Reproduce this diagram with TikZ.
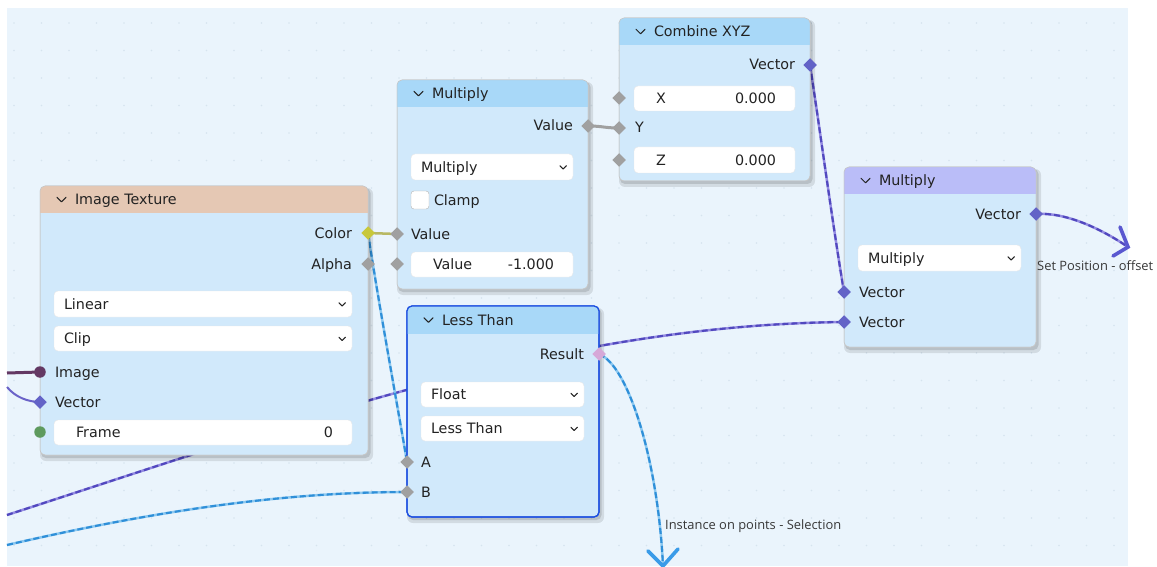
\documentclass[tikz,border=0pt]{standalone}
\usepackage{fontspec}
\setmainfont{DejaVu Sans}
\newfontfamily\lblfont{Open Sans}
\usetikzlibrary{shapes.geometric,fit,calc}
\definecolor{bgc}{HTML}{EAF4FC}
\definecolor{dotc}{HTML}{D6E4EF}
\definecolor{bodyc}{HTML}{D1E9FB}
\definecolor{hdrblue}{HTML}{A8D8F8}
\definecolor{hdrpeach}{HTML}{E5C8B4}
\definecolor{hdrlav}{HTML}{BABDF8}
\definecolor{txtc}{HTML}{222222}
\definecolor{sgray}{HTML}{A0A0A0}
\definecolor{syellow}{HTML}{C8C83A}
\definecolor{svec}{HTML}{6363C7}
\definecolor{spink}{HTML}{D6A8D8}
\definecolor{simg}{HTML}{633863}
\definecolor{sgreen}{HTML}{5E9A5E}
\definecolor{wblue}{HTML}{2F8FD8}
\definecolor{wbluel}{HTML}{8CC8F0}
\definecolor{wpurp}{HTML}{5148BE}
\definecolor{wpurpl}{HTML}{948CE2}
\definecolor{ablue}{HTML}{3A9BE8}
\definecolor{apurp}{HTML}{5A58D0}
\definecolor{ltborder}{HTML}{1E50E0}
\pgfdeclarelayer{back}
\pgfdeclarelayer{wires}
\pgfsetlayers{back,wires,main}
\newcommand{\bnode}[9]{%
  \fill[black, opacity=0.10, rounded corners=6pt] (#2+0,#3+2) rectangle (#4+5,#5+6);
  \fill[black, opacity=0.12, rounded corners=5pt] (#2+1,#3+2) rectangle (#4+2.5,#5+3);
  \node[fit={(#2,#3)(#4,#5)}, inner sep=0, outer sep=0, rounded corners=5pt, fill=bodyc, #9] (#1) {};
  \begin{scope}
    \clip[rounded corners=5pt] (#2,#3) rectangle (#4,#5);
    \fill[#7] (#2,#3) rectangle (#4,#6);
  \end{scope}
  \draw[#9, rounded corners=5pt] (#2,#3) rectangle (#4,#5);
  \draw[chev] (#2+17,{(#3+#6)/2-2.2}) -- ++(4.5,4.5) -- ++(4.5,-4.5);
  \node[txt] (#1-t) at (#2+35,{(#3+#6)/2+5}) {#8};
}
\newcommand{\ddown}[6]{%
  \node[field, fit={(#2,#3)(#4,#5)}] (#1) {};
  \node[txt] (#1-t) at (#2+10,{(#3+#5)/2+5}) {#6};
  \draw[chev, line width=1.1pt] (#4-13,{(#3+#5)/2-1.2}) -- ++(3.2,3.2) -- ++(3.2,-3.2);
}
\newcommand{\vfield}[7]{%
  \node[field, fit={(#2,#3)(#4,#5)}] (#1) {};
  \node[txt] (#1-t) at (#2+22,{(#3+#5)/2+5}) {#6};
  \node[rtxt] (#1-v) at (#4-19,{(#3+#5)/2+5}) {#7};
}
\begin{document}
\begin{tikzpicture}[x=1pt,y=-1pt,
  sockd/.style={diamond, inner sep=0, outer sep=0, minimum size=13.5pt, fill=#1},
  sockc/.style={circle, inner sep=0, outer sep=0, minimum size=11.5pt, fill=#1},
  field/.style={rectangle, rounded corners=4pt, fill=white, draw=black!9, line width=0.4pt, inner sep=0, outer sep=0},
  txt/.style={anchor=base west, inner sep=0, outer sep=0, font=\fontsize{14.3}{16}\selectfont, text=txtc},
  rtxt/.style={txt, anchor=base east},
  lbl/.style={anchor=base west, inner sep=0, font=\lblfont\fontsize{12.9}{14}\selectfont, text=txtc!90},
  chev/.style={draw=txtc, line width=1pt, line cap=round, line join=round},
  normb/.style={draw=black!22, line width=0.5pt},
  selb/.style={draw=ltborder, line width=1.2pt},
  fieldblue/.style={draw=wblue, line width=2.1pt, dash pattern=on 6pt off 3pt, preaction={draw=wbluel, line width=2.5pt}},
  fieldpurp/.style={draw=wpurp, line width=2.1pt, dash pattern=on 6pt off 3pt, preaction={draw=wpurpl, line width=2.5pt}},
  arrowv/.style={line width=3.6pt, line cap=round, line join=miter},
]
\useasboundingbox (0,0) rectangle (1157,567);
\begin{pgfonlayer}{back}
  \fill[white] (0,0) rectangle (1157,567);
  \fill[bgc] (7,8) rectangle (1128,566);
  \begin{scope}
    \clip (7,8) rectangle (1128,566);
    \foreach \i in {0,...,40} {
      \foreach \j in {0,...,20} {
        \fill[dotc] (14+\i*27.5, 23+\j*27.5) circle (0.9);
      }
    }
  \end{scope}
\end{pgfonlayer}

% ---------------- Image Texture
\bnode{img}{40}{186}{368}{455}{213}{hdrpeach}{Image Texture}{normb}
\node[rtxt] (img-color-t) at (352,238) {Color};
\node[rtxt] (img-alpha-t) at (352,269) {Alpha};
\ddown{img-interp}{54}{291}{352}{317}{Linear}
\ddown{img-ext}{54}{326}{352}{351}{Clip}
\node[txt] (img-image-t) at (55,377) {Image};
\node[txt] (img-vec-t) at (55,407) {Vector};
\vfield{img-frame}{54}{420}{352}{445}{Frame}{0}

% ---------------- Multiply (math)
\bnode{mul1}{397}{80}{588}{289}{107}{hdrblue}{Multiply}{normb}
\node[rtxt] (mul1-out-t) at (573,131) {Value};
\ddown{mul1-op}{411}{154}{573}{180}{Multiply}
\node[field, rounded corners=3pt, draw=black!30, fit={(411,191)(429,209)}] (mul1-clampbox) {};
\node[txt] (mul1-clamp-t) at (434,205) {Clamp};
\node[txt] (mul1-in1-t) at (411,239) {Value};
\vfield{mul1-v2}{411}{252}{573}{277}{Value}{-1.000}

% ---------------- Combine XYZ
\bnode{cxyz}{619}{18}{810}{181}{45}{hdrblue}{Combine XYZ}{normb}
\node[rtxt] (cxyz-out-t) at (795,70) {Vector};
\vfield{cxyz-x}{634}{86}{795}{111}{X}{0.000}
\node[txt] (cxyz-y-t) at (635,133) {Y};
\vfield{cxyz-z}{634}{147}{795}{173}{Z}{0.000}

% ---------------- Multiply (vector)
\bnode{mul2}{844}{167}{1036}{347}{194}{hdrlav}{Multiply}{normb}
\node[rtxt] (mul2-out-t) at (1021,219) {Vector};
\ddown{mul2-op}{858}{245}{1021}{271}{Multiply}
\node[txt] (mul2-in1-t) at (859,297) {Vector};
\node[txt] (mul2-in2-t) at (859,327) {Vector};

% ---------------- Less Than
\bnode{lt}{407}{306}{599}{517}{334}{hdrblue}{Less Than}{selb}
\node[rtxt] (lt-res-t) at (584,359) {Result};
\ddown{lt-type}{421}{382}{584}{407}{Float}
\ddown{lt-op}{421}{416}{584}{441}{Less Than}
\node[txt] (lt-a-t) at (421,467) {A};
\node[txt] (lt-b-t) at (421,497) {B};

% ---------------- sockets
\node[sockd=syellow] (img-color) at (368,233) {};
\node[sockd=sgray] (img-alpha) at (368,264) {};
\node[sockc=simg] (img-image) at (40,372) {};
\node[sockd=svec] (img-vec) at (40,402) {};
\node[sockc=sgreen] (img-frame-s) at (40,432) {};
\node[sockd=sgray] (mul1-out) at (588,126) {};
\node[sockd=sgray] (mul1-in1) at (397,234) {};
\node[sockd=sgray] (mul1-in2) at (397,264) {};
\node[sockd=svec] (cxyz-out) at (810,65) {};
\node[sockd=sgray] (cxyz-xs) at (619,98) {};
\node[sockd=sgray] (cxyz-y) at (619,128) {};
\node[sockd=sgray] (cxyz-zs) at (619,160) {};
\node[sockd=svec] (mul2-out) at (1036,214) {};
\node[sockd=svec] (mul2-in1) at (844,292) {};
\node[sockd=svec] (mul2-in2) at (844,322) {};
\node[sockd=spink] (lt-res) at (599,354) {};
\node[sockd=sgray] (lt-a) at (407,462) {};
\node[sockd=sgray] (lt-b) at (407,492) {};

% free ends
\coordinate (offImage) at (7,373);
\coordinate (offVec) at (7,387);
\coordinate (offLong) at (7,515);
\coordinate (offB) at (7,545);
\coordinate (tipSel) at (663,566);
\coordinate (tipPos) at (1128,247);

% ---------------- wires
\begin{pgfonlayer}{wires}
  \draw[line width=3pt, draw=simg] (offImage) -- (img-image.center);
  \draw[line width=2pt, draw=wpurp!85] (offVec) .. controls (15,397) and (28,402) .. (img-vec.center);
  \draw[fieldpurp] (offLong) .. controls (300,420) and (560,325) .. (mul2-in2.center);
  \draw[fieldblue] (offB) .. controls (150,512) and (280,492) .. (lt-b.center);
  \draw[line width=2.5pt, draw=syellow!60!sgray] (img-color.center) -- (mul1-in1.center);
  \draw[fieldblue] (img-color.center) .. controls (378,300) and (400,420) .. (lt-a.center);
  \draw[line width=3pt, draw=sgray] (mul1-out.center) .. controls (603,126) and (604,128) .. (cxyz-y.center);
  \draw[fieldpurp] (cxyz-out.center) .. controls (820,130) and (832,220) .. (mul2-in1.center);
  \draw[fieldblue] (lt-res.center) .. controls (628,365) and (658,460) .. (tipSel);
  \draw[fieldpurp] (mul2-out.center) .. controls (1065,212) and (1100,228) .. (tipPos);
  \draw[arrowv, draw=ablue] ($(tipSel)+(-15,-15)$) -- (tipSel) -- ($(tipSel)+(15,-17)$);
  \draw[arrowv, draw=apurp] ($(tipPos)+(-8,-20)$) -- (tipPos) -- ($(tipPos)+(-15,9)$);
\end{pgfonlayer}

% ---------------- labels
\node[lbl] (lblPos) at (1037,270) {Set Position - offset};
\node[lbl] (lblSel) at (665,529) {Instance on points - Selection};
\end{tikzpicture}
\end{document}
